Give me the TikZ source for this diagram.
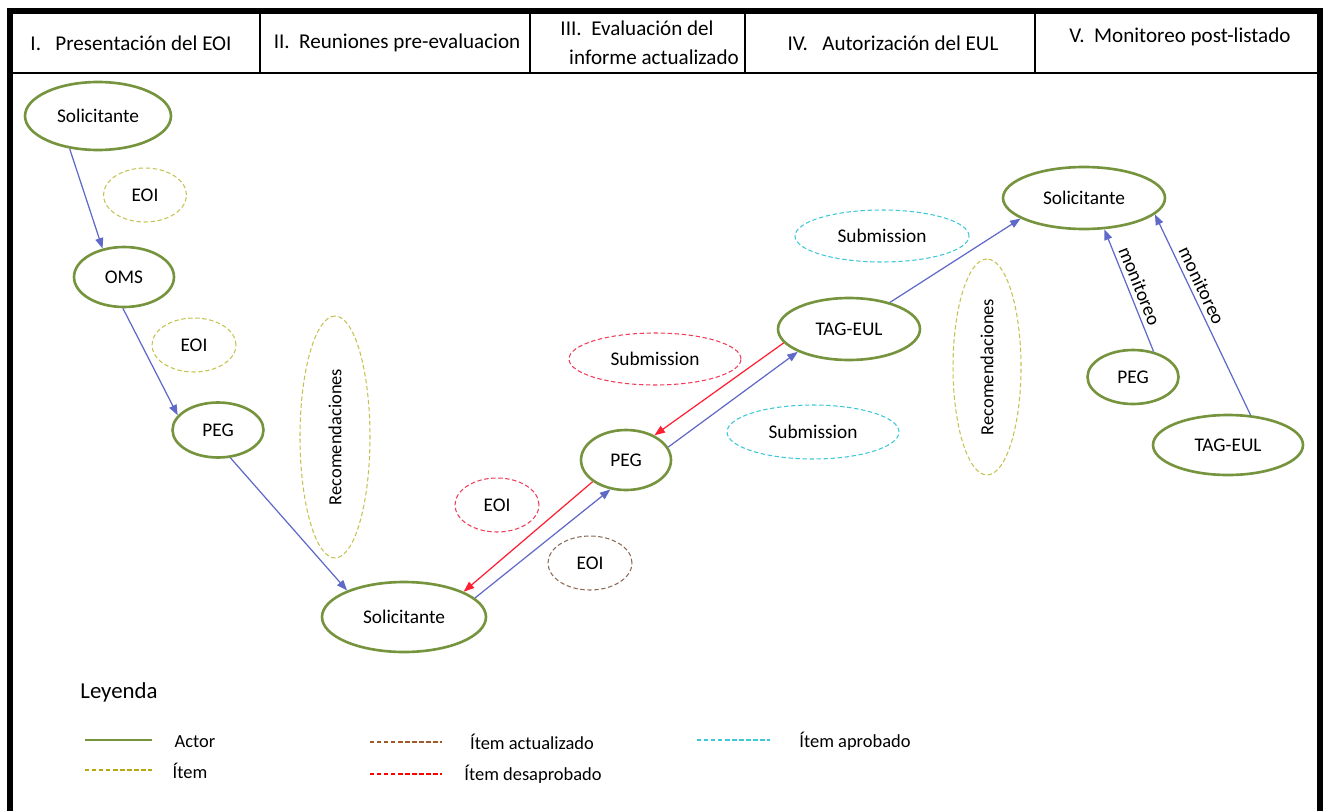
\documentclass[tikz,border=0pt]{standalone}
\usepackage{fontspec}
\setmainfont{Carlito}
\usetikzlibrary{shapes.geometric,arrows.meta}

\definecolor{actorgreen}{RGB}{118,148,62}
\definecolor{olive}{RGB}{196,194,80}
\definecolor{legolive}{RGB}{184,166,20}
\definecolor{itred}{RGB}{240,60,90}
\definecolor{arrred}{RGB}{255,30,50}
\definecolor{itbrown}{RGB}{140,105,85}
\definecolor{legbrown}{RGB}{160,90,40}
\definecolor{itcyan}{RGB}{60,200,215}
\definecolor{linkblue}{RGB}{95,105,200}

\begin{document}
\begin{tikzpicture}[x=0.02cm,y=-0.02cm,
  actor/.style={ellipse,draw=actorgreen,line width=1.5pt,inner sep=0pt,font=\fontsize{11}{13}\selectfont},
  itemolive/.style={ellipse,draw=olive,line width=0.6pt,dash pattern=on 2.5pt off 1.5pt,inner sep=0pt,font=\fontsize{11}{13}\selectfont},
  itemred/.style={itemolive,draw=itred},
  itembrown/.style={itemolive,draw=itbrown},
  itemcyan/.style={itemolive,draw=itcyan},
  link/.style={draw=linkblue,line width=0.7pt,-{Triangle[length=6pt,width=4.5pt]}},
  backlink/.style={link,draw=arrred},
  head/.style={font=\fontsize{12}{14}\selectfont,inner sep=0pt},
  legtext/.style={font=\fontsize{10.5}{12}\selectfont,inner sep=0pt},
  legline/.style={line width=1pt,dash pattern=on 2.5pt off 1.5pt}]
\useasboundingbox (0,0) rectangle (1327,811);

% frame and header
\draw[line width=0.12cm] (10,811) -- (10,11) -- (1320,11) -- (1320,811);
\draw[line width=0.8pt] (10,73) -- (1320,73);
\foreach \x in {260,530,745,1035}
{
\draw[line width=0.8pt] (\x,14) -- (\x,73);
}
\node[head] (h1) at (131,43) {I.\ \ \ Presentación del EOI};
\node[head] (h2) at (397,43) {II.\ \ Reuniones pre-evaluacion};
\node[head] (h3a) at (637,28) {III.\ \ Evaluación del};
\node[head] (h3b) at (654,57) {informe actualizado};
\node[head] (h4) at (893,43) {IV.\ \ \ Autorización del EUL};
\node[head] (h5) at (1180,37) {V.\ \ Monitoreo post-listado};

% actors
\node[actor,minimum width=2.92cm,minimum height=1.36cm] (sol1) at (98,116) {Solicitante};
\node[actor,minimum width=2.0cm,minimum height=1.2cm] (oms) at (124,277) {OMS};
\node[actor,minimum width=1.82cm,minimum height=1.1cm] (peg1) at (218,430) {PEG};
\node[actor,minimum width=3.28cm,minimum height=1.4cm] (sol2) at (404,617) {Solicitante};
\node[actor,minimum width=1.8cm,minimum height=1.2cm] (peg2) at (626,460) {PEG};
\node[actor,minimum width=2.84cm,minimum height=1.24cm] (tag1) at (849,329) {TAG-EUL};
\node[actor,minimum width=3.24cm,minimum height=1.24cm] (sol3) at (1084,198) {Solicitante};
\node[actor,minimum width=1.82cm,minimum height=1.08cm] (peg3) at (1133,377) {PEG};
\node[actor,minimum width=3.0cm,minimum height=1.2cm] (tag2) at (1228,445) {TAG-EUL};

% items
\node[itemolive,minimum width=1.66cm,minimum height=1.08cm] (eoi1) at (145,195) {EOI};
\node[itemolive,minimum width=1.68cm,minimum height=1.08cm] (eoi2) at (194,345) {EOI};
\node[itemolive,rotate=90,minimum width=4.84cm,minimum height=1.4cm,font=\fontsize{10.5}{12}\selectfont] (rec1) at (335,437) {Recomendaciones};
\node[itemred,minimum width=1.68cm,minimum height=1.08cm] (eoi3) at (497,505) {EOI};
\node[itembrown,minimum width=1.68cm,minimum height=1.08cm] (eoi4) at (590,563) {EOI};
\node[itemred,minimum width=3.44cm,minimum height=1.04cm] (sub1) at (655,359) {Submission};
\node[itemcyan,minimum width=3.44cm,minimum height=1.08cm] (sub2) at (813,432) {Submission};
\node[itemcyan,minimum width=3.48cm,minimum height=1.04cm] (sub3) at (882,236) {Submission};
\node[itemolive,rotate=90,minimum width=4.32cm,minimum height=1.36cm,font=\fontsize{10.5}{12}\selectfont] (rec2) at (987,367) {Recomendaciones};

% connectors
\draw[link] (sol1.229) -- (oms.127);
\draw[link] (oms.268) -- (peg1.160);
\draw[link] (peg1.294) -- (sol2.155);
\draw[link] (sol2.15) -- (peg2.242);
\draw[backlink] (peg2.213) -- (sol2.23);
\draw[link] (peg2.17) -- (tag1.204);
\draw[backlink] (tag1.192) -- (peg2.41);
\draw[link] (tag1.33) -- (sol3.198);
\draw[link] (peg3.51) -- node[sloped,above,inner sep=2.5pt,font=\fontsize{11}{13}\selectfont] {monitoreo} (sol3.303);
\draw[link] (tag2.53) -- node[pos=0.62,sloped,above,inner sep=2.5pt,font=\fontsize{11}{13}\selectfont] {monitoreo} (sol3.347);

% legend
\node[inner sep=0pt,font=\fontsize{13}{15}\selectfont] (ley) at (119,692) {Leyenda};
\draw[actorgreen,line width=1.5pt] (85,740) -- (152,740);
\node[legtext] (lactor) at (195,742) {Actor};
\draw[legline,legolive] (85,770) -- (152,770);
\node[legtext] (litem) at (190,771) {Ítem};
\draw[legline,legbrown] (370,742) -- (442,742);
\node[legtext] (lupd) at (532,742) {Ítem actualizado};
\draw[legline,red] (370,774) -- (442,774);
\node[legtext] (ldis) at (533,774) {Ítem desaprobado};
\draw[legline,itcyan] (697,740) -- (770,740);
\node[legtext] (lapr) at (855,741) {Ítem aprobado};
\end{tikzpicture}
\end{document}
